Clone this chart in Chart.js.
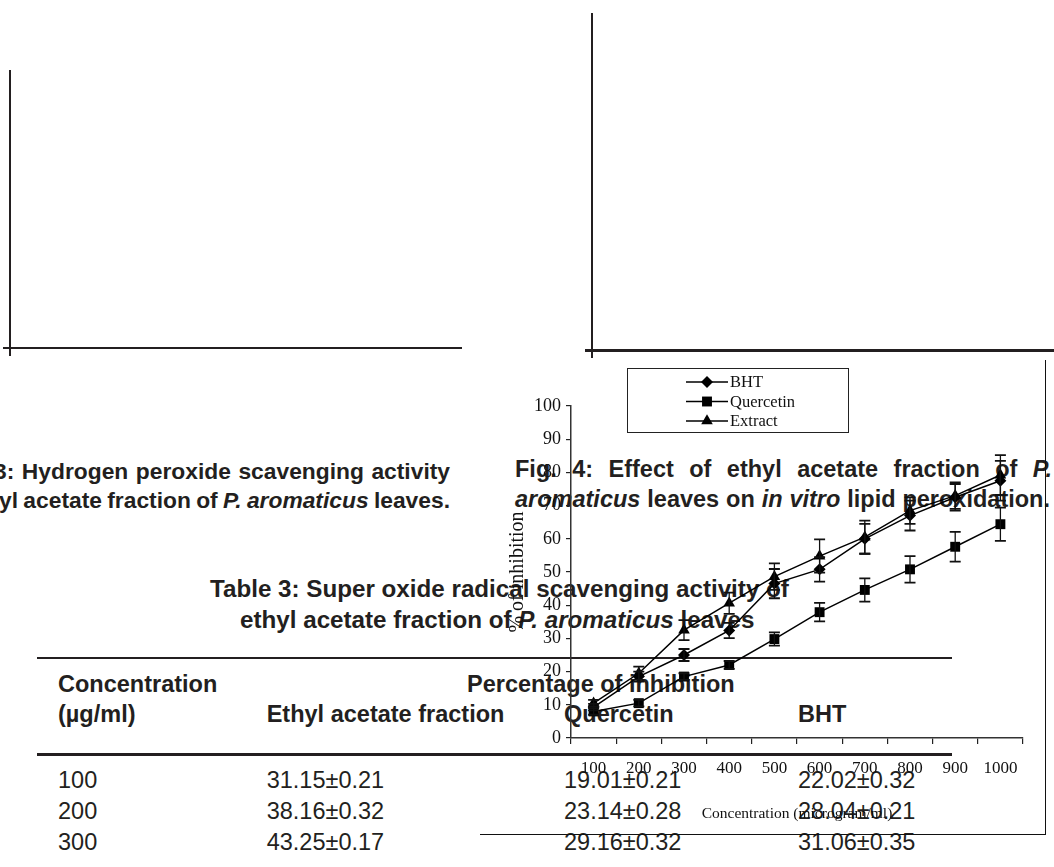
<!DOCTYPE html>
<html><head><meta charset="utf-8">
<script src="https://cdn.jsdelivr.net/npm/chart.js@4.4.1/dist/chart.umd.min.js"></script>
<style>
html,body{margin:0;padding:0;background:#fff;}
body{width:1054px;height:867px;position:relative;overflow:hidden;}
.t{position:absolute;white-space:nowrap;font-family:"Liberation Sans",Arial,Helvetica,sans-serif;font-size:23.5px;line-height:23.5px;color:#231f20;}
.b{font-weight:bold;}
.s{font-size:22.8px;line-height:22.8px;}
.tt{font-size:24.2px;line-height:24.2px;}
.ln{position:absolute;background:#231f20;}
#frame{position:absolute;left:480px;top:360px;width:566px;height:475px;box-sizing:border-box;border-right:1.5px solid #111;border-bottom:1.5px solid #111;}
#c{position:absolute;left:480px;top:360px;}
</style></head>
<body>
<!-- page lines (top empty figure frames) -->
<div class="ln" style="left:8.5px;top:70px;width:2px;height:286px;"></div>
<div class="ln" style="left:3px;top:346.5px;width:459px;height:2.7px;"></div>
<div class="ln" style="left:591px;top:13px;width:2px;height:345px;"></div>
<div class="ln" style="left:585px;top:349px;width:469px;height:2.7px;"></div>

<!-- captions -->
<div class="t b s fit" data-w="456" style="left:-6px;top:459.7px;">3: Hydrogen peroxide scavenging activity</div>
<div class="t b s fit" data-w="451" style="left:-1px;top:488.7px;">yl acetate fraction of <i>P. aromaticus</i> leaves.</div>
<div class="t b fit" data-w="537" style="left:515px;top:457.8px;">Fig. 4: Effect of ethyl acetate fraction of <i>P.</i></div>
<div class="t b fit" data-w="535" style="left:515px;top:488.1px;"><i>aromaticus</i> leaves on <i>in vitro</i> lipid peroxidation.</div>

<!-- table -->
<div class="t b tt" style="left:210px;top:576.5px;">Table 3: Super oxide radical scavenging activity of</div>
<div class="t b tt" style="left:240px;top:607.5px;">ethyl acetate fraction of <i>P. aromaticus</i> leaves</div>
<div class="ln" style="left:37px;top:656.5px;width:915px;height:2.5px;"></div>
<div class="ln" style="left:37px;top:753px;width:915px;height:2.5px;"></div>
<div class="t b" style="left:58px;top:673.1px;">Concentration</div>
<div class="t b" style="left:467px;top:673.1px;">Percentage of inhibition</div>
<div class="t b" style="left:58px;top:703.1px;">(µg/ml)</div>
<div class="t b" style="left:266.7px;top:703.1px;">Ethyl acetate fraction</div>
<div class="t b" style="left:564px;top:703.1px;">Quercetin</div>
<div class="t b" style="left:798px;top:703.1px;">BHT</div>

<div class="t" style="left:58px;top:769.1px;">100</div>
<div class="t" style="left:266.7px;top:769.1px;">31.15±0.21</div>
<div class="t" style="left:564px;top:769.1px;">19.01±0.21</div>
<div class="t" style="left:798px;top:769.1px;">22.02±0.32</div>
<div class="t" style="left:58px;top:800.1px;">200</div>
<div class="t" style="left:266.7px;top:800.1px;">38.16±0.32</div>
<div class="t" style="left:564px;top:800.1px;">23.14±0.28</div>
<div class="t" style="left:798px;top:800.1px;">28.04±0.21</div>
<div class="t" style="left:58px;top:831.1px;">300</div>
<div class="t" style="left:266.7px;top:831.1px;">43.25±0.17</div>
<div class="t" style="left:564px;top:831.1px;">29.16±0.32</div>
<div class="t" style="left:798px;top:831.1px;">31.06±0.35</div>

<div id="frame"></div>
<canvas id="c" width="566" height="475"></canvas>

<script>
// justify caption lines to their measured widths
document.querySelectorAll('.fit').forEach(el => {
  const target = parseFloat(el.dataset.w);
  const spaces = (el.textContent.match(/ /g) || []).length;
  const nat = el.getBoundingClientRect().width;
  if (spaces > 0) el.style.wordSpacing = ((target - nat) / spaces) + 'px';
});

// ---- chart data ----
const categories = ['100','200','300','400','500','600','700','800','900','1000'];
const seriesNames = ['BHT', 'Quercetin', 'Extract'];
const bhtValues = [9.3, 18.5, 25, 32.4, 46.5, 50.8, 60, 67, 72.5, 77.5];
const bhtErrors = [1, 1.5, 1.8, 2.3, 4.4, 3.7, 4.5, 4.5, 4, 6];
const quercetinValues = [8, 10.5, 18.5, 22, 29.8, 37.9, 44.6, 50.8, 57.6, 64.4];
const quercetinErrors = [1, 1, 1, 1.2, 2, 2.8, 3.5, 4, 4.5, 5];
const extractValues = [10.5, 19.5, 32.5, 40.6, 48.6, 54.8, 60.5, 68.5, 73, 79.2];
const extractErrors = [1, 2, 3, 3.2, 4, 5, 5, 4, 4, 6];
const yMin = 0, yMax = 100, yStep = 10;
const xTitle = 'Concentration (microgram/ml)';
const yTitle = '% of inhibition';

function drawMarker(ctx, style, r, x, y) {
  ctx.beginPath();
  if (style === 'rectRot') {
    ctx.moveTo(x, y - r); ctx.lineTo(x + r, y); ctx.lineTo(x, y + r); ctx.lineTo(x - r, y);
  } else if (style === 'rect') {
    const s = r * Math.SQRT1_2; ctx.rect(x - s, y - s, 2 * s, 2 * s);
  } else {
    ctx.moveTo(x, y - r);
    ctx.lineTo(x + r * Math.sin(2 * Math.PI / 3), y - r * Math.cos(2 * Math.PI / 3));
    ctx.lineTo(x + r * Math.sin(4 * Math.PI / 3), y - r * Math.cos(4 * Math.PI / 3));
  }
  ctx.closePath(); ctx.fill();
}

const errorBarPlugin = {
  id: 'errorBars',
  afterDatasetsDraw(chart) {
    const ctx = chart.ctx, ys = chart.scales.y;
    chart.data.datasets.forEach((ds, di) => {
      if (!ds.errors) return;
      const meta = chart.getDatasetMeta(di);
      ctx.save();
      ctx.strokeStyle = '#111';
      meta.data.forEach((pt, i) => {
        const v = ds.data[i], e = ds.errors[i];
        const x = pt.x, yt = ys.getPixelForValue(v + e), yb = ys.getPixelForValue(v - e);
        ctx.lineWidth = 1.3;
        ctx.beginPath(); ctx.moveTo(x, yt); ctx.lineTo(x, yb); ctx.stroke();
        ctx.lineWidth = 1.8;
        ctx.beginPath();
        ctx.moveTo(x - 5.5, yt); ctx.lineTo(x + 5.5, yt);
        ctx.moveTo(x - 5.5, yb); ctx.lineTo(x + 5.5, yb);
        ctx.stroke();
      });
      ctx.restore();
    });
  }
};

const legendBoxPlugin = {
  id: 'legendBox',
  afterDraw(chart) {
    const ctx = chart.ctx, a = chart.chartArea;
    const bx = a.left + 56.5, by = a.top - 37.5, bw = 221, bh = 64;
    ctx.save();
    ctx.fillStyle = '#fff';
    ctx.fillRect(bx, by, bw, bh);
    ctx.strokeStyle = '#222'; ctx.lineWidth = 1;
    ctx.strokeRect(bx, by, bw, bh);
    const rows = [13.5, 33, 52.5];
    chart.data.datasets.forEach((ds, i) => {
      const y = by + rows[i];
      ctx.strokeStyle = '#000'; ctx.lineWidth = 1.5;
      ctx.beginPath(); ctx.moveTo(bx + 58.5, y); ctx.lineTo(bx + 100.5, y); ctx.stroke();
      ctx.fillStyle = '#000';
      drawMarker(ctx, ds.pointStyle, ds.pointRadius, bx + 79.5, y);
      ctx.fillStyle = '#111';
      ctx.font = '16.5px "Liberation Serif", "Times New Roman", serif';
      ctx.textBaseline = 'middle'; ctx.textAlign = 'left';
      ctx.fillText(ds.label, bx + 102.5, y + 1);
    });
    ctx.restore();
  }
};

const serif = '"Liberation Serif", "Times New Roman", serif';

new Chart(document.getElementById('c'), {
  type: 'line',
  data: {
    labels: categories,
    datasets: [
      { label: seriesNames[0], data: bhtValues, errors: bhtErrors, pointStyle: 'rectRot', pointRadius: 6 },
      { label: seriesNames[1], data: quercetinValues, errors: quercetinErrors, pointStyle: 'rect', pointRadius: 7 },
      { label: seriesNames[2], data: extractValues, errors: extractErrors, pointStyle: 'triangle', pointRadius: 6.7 }
    ].map(d => Object.assign(d, {
      borderColor: '#000', borderWidth: 1.5, backgroundColor: '#000',
      pointBackgroundColor: '#000', pointBorderColor: '#000', pointBorderWidth: 0,
      tension: 0, fill: false
    }))
  },
  options: {
    responsive: false,
    animation: false,
    devicePixelRatio: 1,
    layout: { padding: { left: 26, top: 46, right: 23, bottom: 0 } },
    plugins: { legend: { display: false }, tooltip: { enabled: false } },
    elements: { point: { hoverRadius: 6 } },
    scales: {
      x: {
        type: 'category',
        offset: true,
        afterFit(s) { s.height = 97; },
        grid: { display: true, drawOnChartArea: false, drawTicks: true, tickLength: 6, color: '#222', lineWidth: 1.2, offset: true },
        border: { display: true, color: '#333', width: 1.5 },
        ticks: { color: '#111', padding: 14, maxRotation: 0, autoSkip: false, font: { family: serif, size: 17 } },
        title: { display: true, text: xTitle, color: '#111', padding: { top: 0, bottom: 12 }, font: { family: serif, size: 15.5 } }
      },
      y: {
        min: yMin, max: yMax,
        afterFit(s) { s.width = 65; },
        grid: { display: true, drawOnChartArea: false, drawTicks: true, tickLength: 5, color: '#222', lineWidth: 1.2 },
        border: { display: true, color: '#333', width: 1.5 },
        ticks: { stepSize: yStep, color: '#111', padding: 5, font: { family: serif, size: 18 } },
        title: { display: true, text: yTitle, color: '#111', padding: 0, font: { family: serif, size: 20 } }
      }
    }
  },
  plugins: [errorBarPlugin, legendBoxPlugin]
});
</script>
</body></html>
